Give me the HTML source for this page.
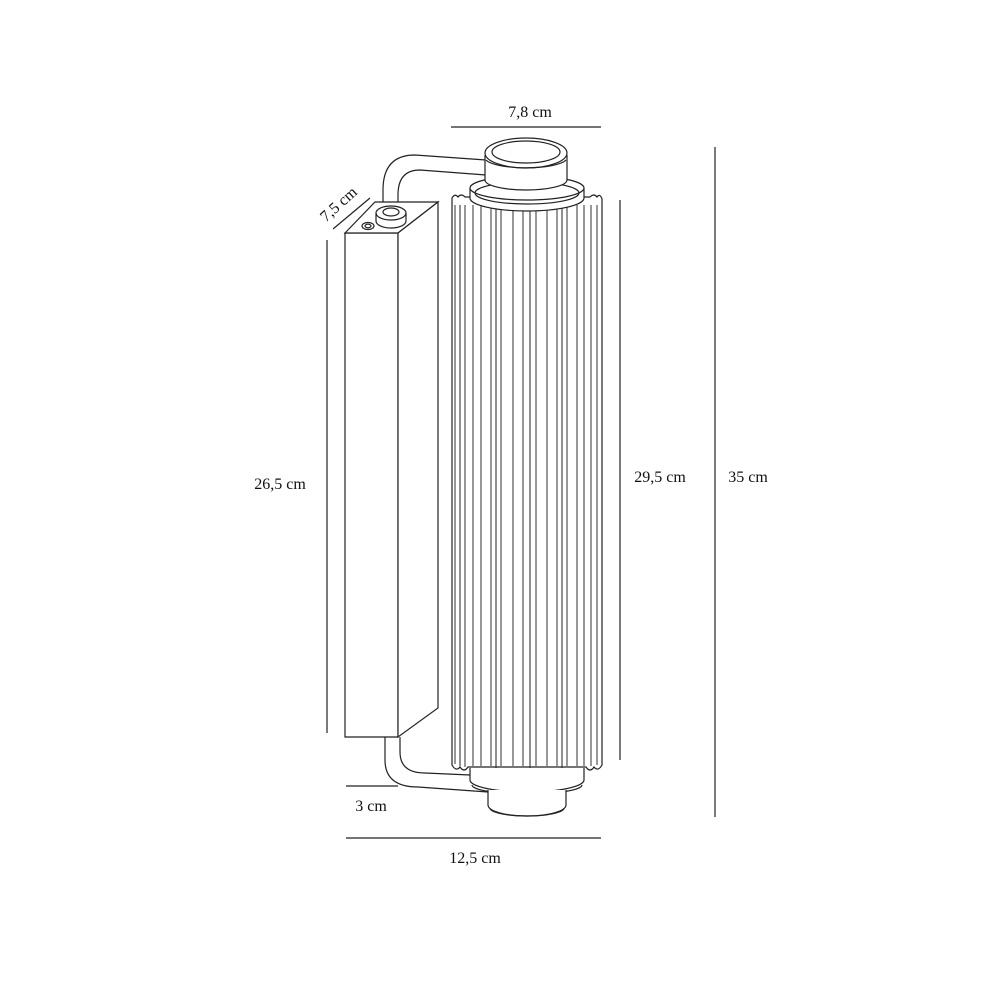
<!DOCTYPE html>
<html><head><meta charset="utf-8"><style>
html,body{margin:0;padding:0;background:#fff}
svg{display:block}
text{font-family:"Liberation Serif",serif;font-size:16px;fill:#111}
</style></head><body>
<svg width="1000" height="1000" viewBox="0 0 1000 1000" xmlns="http://www.w3.org/2000/svg">
<g stroke="#222" stroke-width="1.2" fill="none">
<line x1="451" y1="127" x2="601" y2="127"/>
<line x1="715" y1="147" x2="715" y2="817"/>
<line x1="620" y1="200" x2="620" y2="760"/>
<line x1="327" y1="240" x2="327" y2="733"/>
<line x1="333" y1="229" x2="370" y2="198"/>
<line x1="346" y1="786" x2="398" y2="786"/>
<line x1="346" y1="838" x2="601" y2="838"/>

<path d="M383 205 L383 190 Q383 155 415 155 L486 160"/>
<path d="M398 205 L398 195 Q398 170 420 170 L486 175"/>
<path d="M385 737 L385 760 Q385 787 418 787 L488 792"/>
<path d="M400 737 L400 752 Q400 773 425 773 L470 775"/>

<polygon points="345,233 398,233 398,737 345,737" fill="#fff"/>
<polygon points="345,233 375,202 438,202 398,233" fill="#fff"/>
<polygon points="398,233 438,202 438,708 398,737" fill="#fff"/>
<ellipse cx="391" cy="213" rx="15" ry="7" fill="#fff"/>
<path d="M376 213 L376 221 A15 7 0 0 0 406 221 L406 213"/>
<ellipse cx="391" cy="212" rx="8" ry="4" fill="#fff"/>
<ellipse cx="368" cy="226" rx="6" ry="3.5"/>
<ellipse cx="368" cy="226" rx="3" ry="1.8"/>

<path d="M452 198 Q455 193 458 197 Q461 193 465 197 L590 197 Q594 193 597 197 Q600 193 602 199 L602 765 Q598 772 594 767 Q590 773 586 767 L468 767 Q464 773 460 767 Q456 772 452 765 Z" fill="#fff"/>
<g stroke="#777" stroke-width="1.5">
<line x1="455" y1="205" x2="455" y2="764"/><line x1="465" y1="205" x2="465" y2="767"/>
<line x1="473" y1="205" x2="473" y2="767"/><line x1="481" y1="205" x2="481" y2="768"/>
<line x1="491" y1="205" x2="491" y2="768"/><line x1="501" y1="205" x2="501" y2="769"/>
<line x1="513" y1="205" x2="513" y2="769"/><line x1="523" y1="205" x2="523" y2="769"/>
<line x1="536" y1="205" x2="536" y2="769"/><line x1="547" y1="205" x2="547" y2="769"/>
<line x1="557" y1="205" x2="557" y2="769"/><line x1="567" y1="205" x2="567" y2="769"/>
<line x1="577" y1="205" x2="577" y2="768"/><line x1="584" y1="205" x2="584" y2="767"/>
<line x1="591" y1="205" x2="591" y2="766"/><line x1="597" y1="205" x2="597" y2="765"/>
</g>
<g stroke="#222" stroke-width="1">
<line x1="460" y1="205" x2="460" y2="766"/><line x1="496" y1="205" x2="496" y2="768"/>
<line x1="530" y1="205" x2="530" y2="769"/><line x1="562" y1="205" x2="562" y2="769"/>
</g>
<path d="M470 188 L470 198 A57 13 0 0 0 584 198 L584 188" fill="#fff"/>
<ellipse cx="527" cy="188" rx="57" ry="12" fill="#fff"/>
<ellipse cx="527" cy="193" rx="52" ry="11"/>
<path d="M485 155 L485 180 A41 10 0 0 0 567 180 L567 155" fill="#fff"/>
<ellipse cx="526" cy="153" rx="41" ry="15" fill="#fff"/>
<ellipse cx="526" cy="152" rx="34" ry="11"/>
<path d="M486 160 A41 10 0 0 0 566 160"/>
<path d="M470 768 L470 780 A57 12 0 0 0 584 780 L584 768" fill="#fff"/>
<path d="M472 785 A55 9 0 0 0 582 785"/>
<path d="M488 790 L488 805 A39 11 0 0 0 566 805 L566 790" fill="#fff"/>
<path d="M490 808 A37 8 0 0 0 564 808"/>
</g>
<text x="530" y="117" text-anchor="middle">7,8 cm</text>
<text x="748" y="482" text-anchor="middle">35 cm</text>
<text x="660" y="482" text-anchor="middle">29,5 cm</text>
<text x="280" y="489" text-anchor="middle">26,5 cm</text>
<text x="371" y="811" text-anchor="middle">3 cm</text>
<text x="475" y="863" text-anchor="middle">12,5 cm</text>
<text x="342" y="208" text-anchor="middle" transform="rotate(-42 342 208)">7,5 cm</text>
</svg>
</body></html>
